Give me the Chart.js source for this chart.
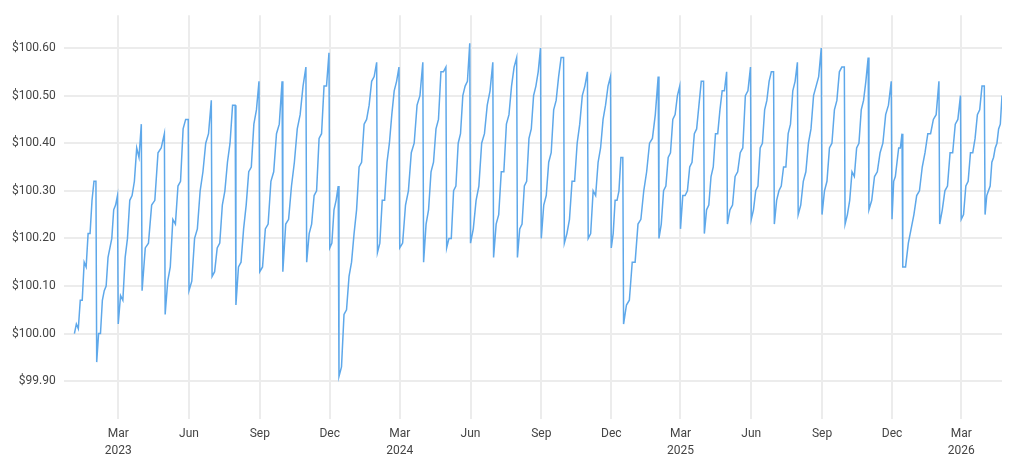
<!DOCTYPE html>
<html>
<head>
<meta charset="utf-8">
<script src="https://cdn.jsdelivr.net/npm/chart.js@4"></script>
<style>
  html, body { margin: 0; padding: 0; background: #fff; overflow: hidden; }
  #wrap { width: 1024px; height: 498px; }
</style>
</head>
<body>
<div id="wrap"><canvas id="priceChart"></canvas></div>
<script>
// each segment: first date, values through to the next segment's start
const segStarts = [
  '2023-01-03', '2023-02-01', '2023-03-01', '2023-04-01', '2023-05-01', '2023-06-01',
  '2023-07-01', '2023-08-01', '2023-09-01', '2023-10-01', '2023-11-01', '2023-12-01',
  '2023-12-13', '2024-02-01', '2024-03-01', '2024-04-01', '2024-05-01', '2024-06-01',
  '2024-07-01', '2024-08-01', '2024-09-01', '2024-10-01', '2024-11-01', '2024-12-01',
  '2024-12-17', '2025-02-01', '2025-03-01', '2025-04-01', '2025-05-01', '2025-06-01',
  '2025-07-01', '2025-08-01', '2025-09-01', '2025-10-01', '2025-11-01', '2025-12-01',
  '2025-12-15', '2026-02-01', '2026-03-01', '2026-04-01'
];
const lastDate = '2026-04-23';

const segValues = [
  [100.00, 100.02, 100.01, 100.07, 100.07, 100.15, 100.14, 100.21, 100.21, 100.28, 100.32, 100.32],
  [99.94, 100.00, 100.00, 100.07, 100.09, 100.10, 100.16, 100.18, 100.20, 100.26, 100.27, 100.29],
  [100.02, 100.08, 100.07, 100.16, 100.20, 100.28, 100.29, 100.32, 100.39, 100.37, 100.44],
  [100.09, 100.18, 100.19, 100.27, 100.28, 100.38, 100.39, 100.42],
  [100.04, 100.11, 100.14, 100.24, 100.23, 100.31, 100.32, 100.43, 100.45, 100.45],
  [100.09, 100.11, 100.20, 100.22, 100.30, 100.34, 100.40, 100.42, 100.49],
  [100.12, 100.13, 100.18, 100.19, 100.27, 100.30, 100.36, 100.40, 100.48, 100.48],
  [100.06, 100.14, 100.15, 100.22, 100.27, 100.34, 100.35, 100.44, 100.47, 100.53],
  [100.13, 100.14, 100.22, 100.23, 100.32, 100.34, 100.42, 100.44, 100.53],
  [100.13, 100.23, 100.24, 100.31, 100.36, 100.43, 100.46, 100.52, 100.56],
  [100.15, 100.21, 100.23, 100.29, 100.30, 100.41, 100.42, 100.52, 100.52, 100.59],
  [100.18, 100.19, 100.26, 100.28, 100.31],
  [99.91, 99.93, 100.04, 100.05, 100.12, 100.15, 100.21, 100.26, 100.35, 100.36, 100.44, 100.45, 100.48, 100.53, 100.54, 100.57],
  [100.17, 100.19, 100.28, 100.28, 100.36, 100.40, 100.46, 100.51, 100.53, 100.56],
  [100.18, 100.19, 100.27, 100.30, 100.38, 100.40, 100.48, 100.50, 100.57],
  [100.15, 100.23, 100.26, 100.34, 100.36, 100.43, 100.45, 100.55, 100.55, 100.56],
  [100.18, 100.20, 100.20, 100.30, 100.31, 100.40, 100.42, 100.50, 100.52, 100.53, 100.61],
  [100.19, 100.22, 100.28, 100.31, 100.40, 100.42, 100.48, 100.51, 100.57],
  [100.16, 100.23, 100.25, 100.34, 100.34, 100.44, 100.46, 100.52, 100.56, 100.58],
  [100.16, 100.22, 100.23, 100.31, 100.32, 100.41, 100.43, 100.50, 100.52, 100.55, 100.60],
  [100.20, 100.27, 100.29, 100.36, 100.38, 100.47, 100.49, 100.54, 100.58, 100.58],
  [100.19, 100.21, 100.24, 100.32, 100.32, 100.40, 100.44, 100.50, 100.52, 100.55],
  [100.20, 100.21, 100.30, 100.29, 100.36, 100.39, 100.45, 100.48, 100.52, 100.54],
  [100.18, 100.21, 100.28, 100.28, 100.30, 100.37, 100.37],
  [100.02, 100.06, 100.07, 100.15, 100.15, 100.23, 100.24, 100.30, 100.34, 100.40, 100.41, 100.46, 100.54],
  [100.20, 100.23, 100.30, 100.31, 100.37, 100.38, 100.45, 100.46, 100.50, 100.52],
  [100.22, 100.29, 100.29, 100.30, 100.35, 100.36, 100.42, 100.43, 100.48, 100.53, 100.53],
  [100.21, 100.26, 100.27, 100.33, 100.35, 100.42, 100.42, 100.47, 100.51, 100.51, 100.55],
  [100.23, 100.26, 100.27, 100.33, 100.34, 100.38, 100.39, 100.50, 100.51, 100.56],
  [100.24, 100.26, 100.30, 100.31, 100.39, 100.40, 100.47, 100.49, 100.53, 100.55, 100.55],
  [100.23, 100.28, 100.30, 100.31, 100.35, 100.35, 100.42, 100.44, 100.51, 100.53, 100.57],
  [100.25, 100.27, 100.32, 100.34, 100.40, 100.43, 100.50, 100.52, 100.54, 100.60],
  [100.25, 100.30, 100.32, 100.39, 100.40, 100.47, 100.49, 100.55, 100.56, 100.56],
  [100.23, 100.25, 100.28, 100.34, 100.33, 100.39, 100.40, 100.47, 100.49, 100.53, 100.58],
  [100.26, 100.28, 100.33, 100.34, 100.38, 100.40, 100.46, 100.48, 100.53],
  [100.24, 100.32, 100.33, 100.36, 100.39, 100.39, 100.42],
  [100.14, 100.14, 100.19, 100.22, 100.25, 100.29, 100.30, 100.35, 100.38, 100.42, 100.42, 100.45, 100.46, 100.53],
  [100.23, 100.26, 100.30, 100.31, 100.38, 100.38, 100.44, 100.45, 100.50],
  [100.24, 100.25, 100.31, 100.32, 100.38, 100.38, 100.41, 100.46, 100.47, 100.52, 100.52],
  [100.25, 100.29, 100.30, 100.31, 100.36, 100.37, 100.39, 100.40, 100.43, 100.44, 100.50]
];

const tickDates = [
  '2023-03-01', '2023-06-01', '2023-09-01', '2023-12-01',
  '2024-03-01', '2024-06-01', '2024-09-01', '2024-12-01',
  '2025-03-01', '2025-06-01', '2025-09-01', '2025-12-01', '2026-03-01'
];
const tickLabels = [
  ['Mar', '2023'], 'Jun', 'Sep', 'Dec',
  ['Mar', '2024'], 'Jun', 'Sep', 'Dec',
  ['Mar', '2025'], 'Jun', 'Sep', 'Dec',
  ['Mar', '2026']
];

const DAY = 86400000;
const ts = s => Date.parse(s + 'T00:00:00Z');

// place each segment's readings across its days
const points = [];
segValues.forEach((vals, i) => {
  const a = ts(segStarts[i]);
  const b = i + 1 < segStarts.length ? ts(segStarts[i + 1]) - DAY : ts(lastDate);
  vals.forEach((v, j) => {
    const t = vals.length > 1 ? a + (b - a) * j / (vals.length - 1) : a;
    points.push({ x: t, y: v });
  });
});

const tickTimes = tickDates.map(ts);

new Chart(document.getElementById('priceChart'), {
  type: 'line',
  data: {
    datasets: [{
      label: 'Unit price (AUD)',
      data: points,
      borderColor: '#5ea8ea',
      backgroundColor: 'rgba(94,168,234,0.35)',
      borderWidth: 1.5,
      pointRadius: 0,
      tension: 0
    }]
  },
  options: {
    responsive: true,
    maintainAspectRatio: false,
    animation: false,
    layout: { padding: { left: 4, right: 22, top: 0, bottom: 0 } },
    plugins: {
      legend: {
        position: 'bottom',
        labels: { color: '#666', font: { family: 'Roboto', size: 12 }, boxWidth: 14, boxHeight: 10 }
      },
      tooltip: { enabled: false }
    },
    scales: {
      x: {
        type: 'linear',
        min: ts('2022-12-20'),
        max: ts(lastDate),
        afterBuildTicks: axis => { axis.ticks = tickTimes.map(v => ({ value: v })); },
        ticks: {
          autoSkip: false,
          maxRotation: 0,
          padding: 6,
          color: '#444',
          font: { family: 'Roboto', size: 12, lineHeight: 1.45 },
          callback: value => tickLabels[tickTimes.indexOf(value)]
        },
        grid: { color: '#ececec', lineWidth: 2, drawTicks: false },
        border: { display: false }
      },
      y: {
        min: 99.82,
        max: 100.669,
        afterBuildTicks: axis => {
          const t = [];
          for (let k = 999; k <= 1006; k++) t.push({ value: k / 10 });
          axis.ticks = t;
        },
        ticks: {
          color: '#444',
          font: { family: 'Roboto', size: 12 },
          padding: 8,
          callback: v => '$' + v.toFixed(2)
        },
        grid: { color: '#ececec', lineWidth: 2, drawTicks: false },
        border: { display: false }
      }
    }
  }
});
</script>
</body>
</html>
